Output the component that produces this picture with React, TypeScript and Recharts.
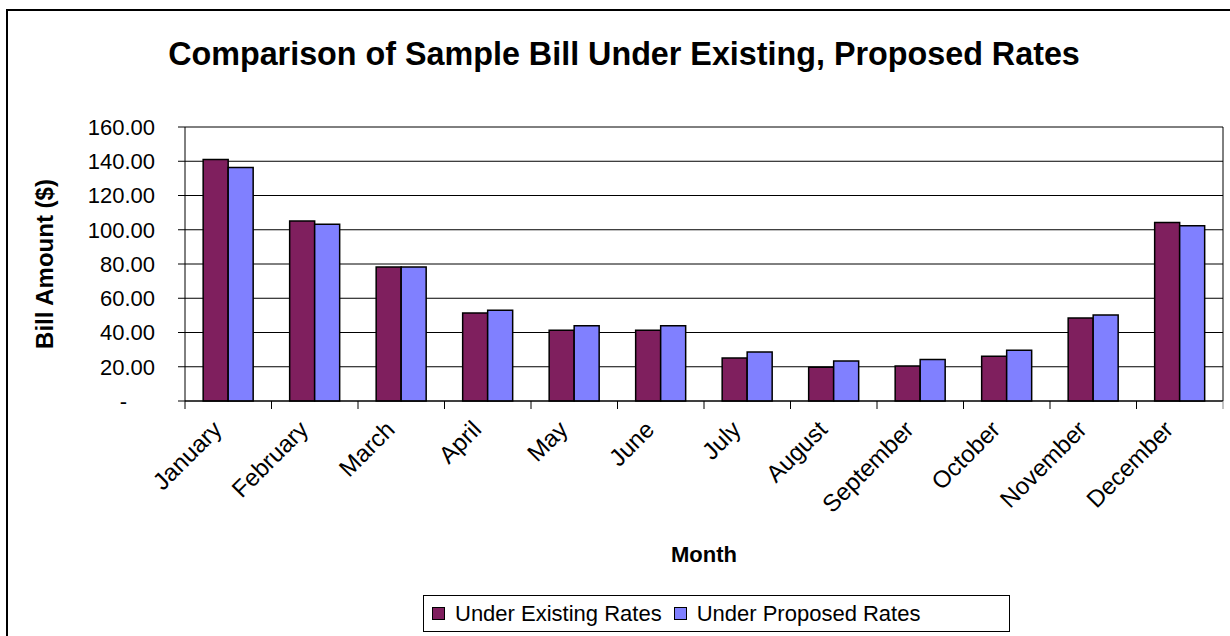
import React from 'react';
import { BarChart, Bar, XAxis, YAxis, CartesianGrid, Legend, Label } from 'recharts';

const months = [
  'January', 'February', 'March', 'April', 'May', 'June',
  'July', 'August', 'September', 'October', 'November', 'December',
];
const existingRates = [141.0, 105.1, 78.3, 51.4, 41.3, 41.3, 25.1, 19.7, 20.4, 26.1, 48.5, 104.2];
const proposedRates = [136.3, 103.2, 78.3, 53.0, 44.0, 44.0, 28.6, 23.4, 24.2, 29.6, 50.2, 102.4];
const yTicks = [0, 20, 40, 60, 80, 100, 120, 140, 160];

const data = months.map((month, i) => ({
  month,
  existing: existingRates[i],
  proposed: proposedRates[i],
}));

const FONT = '"Liberation Sans", Arial, sans-serif';
const EXISTING = '#7f1f5e';
const PROPOSED = '#8080ff';

const MonthTick = (props: any) => {
  const { x, y, payload, index } = props;
  const half = payload && payload.offset ? payload.offset : 43.25;
  const ax = x - 5;
  const ay = y + 30;
  return (
    <g>
      <line x1={x - half} y1={y} x2={x - half} y2={y + 8} stroke="#000" />
      {index === months.length - 1 && (
        <line x1={x + half} y1={y} x2={x + half} y2={y + 8} stroke="#888" />
      )}
      <text
        x={ax}
        y={ay}
        transform={`rotate(-45 ${ax} ${ay})`}
        textAnchor="end"
        fontSize={24}
        fontFamily={FONT}
        fill="#000"
      >
        {payload.value}
      </text>
    </g>
  );
};

const AmountTick = (props: any) => {
  const { x, y, payload } = props;
  const v = payload.value;
  return (
    <text
      x={v === 0 ? x - 28 : x}
      y={y}
      dy="0.36em"
      textAnchor="end"
      fontSize={22}
      fontFamily={FONT}
      fill="#000"
    >
      {v === 0 ? '-' : v.toFixed(2)}
    </text>
  );
};

const LegendBox = () => (
  <div
    style={{
      border: '1px solid #000',
      width: 585,
      height: 35,
      display: 'flex',
      alignItems: 'center',
      fontFamily: FONT,
      fontSize: 22,
      background: '#fff',
    }}
  >
    <span style={{ width: 11, height: 11, background: EXISTING, border: '1px solid #000', marginLeft: 8, marginRight: 10 }} />
    <span>Under Existing Rates</span>
    <span style={{ width: 11, height: 11, background: PROPOSED, border: '1px solid #000', marginLeft: 12, marginRight: 10 }} />
    <span>Under Proposed Rates</span>
  </div>
);

export default function App() {
  return (
    <div style={{ position: 'relative', width: 1230, height: 636, overflow: 'hidden', background: '#fff' }}>
      <style>{'body{margin:0}'}</style>
      <div
        style={{
          position: 'absolute',
          left: 6,
          top: 9,
          width: 1260,
          height: 700,
          border: '2px solid #000',
          boxSizing: 'border-box',
        }}
      />
      <div
        style={{
          position: 'absolute',
          left: 9,
          top: 36,
          width: 1230,
          textAlign: 'center',
          fontFamily: FONT,
          fontWeight: 'bold',
          fontSize: 32.3,
          color: '#000',
        }}
      >
        Comparison of Sample Bill Under Existing, Proposed Rates
      </div>
      <div style={{ position: 'absolute', left: 0, top: 0 }}>
        <BarChart
          width={1230}
          height={636}
          data={data}
          margin={{ top: 127, right: 7, left: 0, bottom: 48 }}
          barCategoryGap="21%"
          barGap={0}
        >
          <CartesianGrid
            stroke="#000"
            horizontal
            verticalCoordinatesGenerator={({ offset }: any) => [offset.left + offset.width]}
          />
          <XAxis
            dataKey="month"
            interval={0}
            height={150}
            tickLine={false}
            tickSize={0}
            tickMargin={0}
            axisLine={{ stroke: '#000' }}
            tick={<MonthTick />}
          >
            <Label
              content={({ viewBox }: any) => (
                <text
                  x={viewBox.x + viewBox.width / 2}
                  y={viewBox.y + 161}
                  textAnchor="middle"
                  fontSize={22}
                  fontWeight="bold"
                  fontFamily={FONT}
                  fill="#000"
                >
                  Month
                </text>
              )}
            />
          </XAxis>
          <YAxis
            width={185}
            domain={[0, 160]}
            ticks={yTicks}
            interval={0}
            tickSize={7}
            tickMargin={23}
            tickLine={{ stroke: '#000' }}
            axisLine={{ stroke: '#000' }}
            tick={<AmountTick />}
          >
            <Label
              content={({ viewBox }: any) => (
                <text
                  x={53}
                  y={viewBox.y + viewBox.height / 2}
                  transform={`rotate(-90 53 ${viewBox.y + viewBox.height / 2})`}
                  textAnchor="middle"
                  fontSize={24}
                  fontWeight="bold"
                  fontFamily={FONT}
                  fill="#000"
                >
                  Bill Amount ($)
                </text>
              )}
            />
          </YAxis>
          <Legend
            content={<LegendBox />}
            verticalAlign="bottom"
            wrapperStyle={{ position: 'absolute', left: 423, top: 595, width: 587, height: 37 }}
          />
          <Bar dataKey="existing" name="Under Existing Rates" fill={EXISTING} stroke="#000" strokeWidth={1.5} isAnimationActive={false} />
          <Bar dataKey="proposed" name="Under Proposed Rates" fill={PROPOSED} stroke="#000" strokeWidth={1.5} isAnimationActive={false} />
        </BarChart>
      </div>
    </div>
  );
}
